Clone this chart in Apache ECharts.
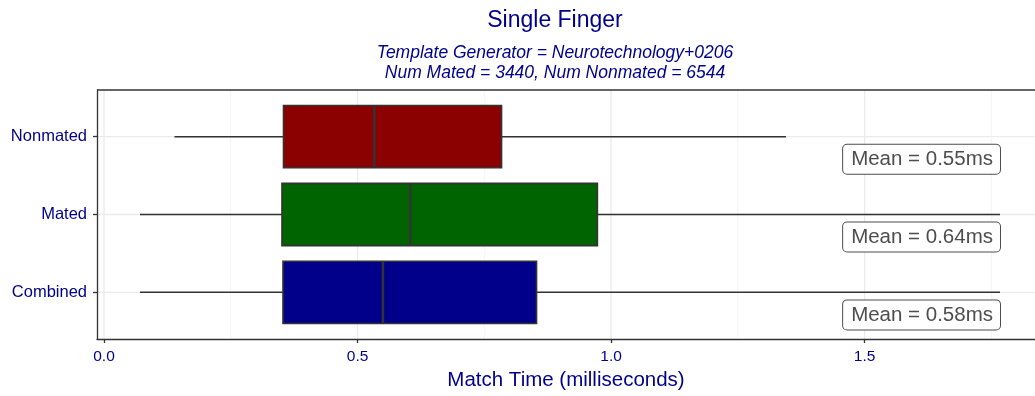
<!DOCTYPE html>
<html>
<head>
<meta charset="utf-8">
<script src="https://cdn.jsdelivr.net/npm/echarts@6/dist/echarts.min.js"></script>
<style>
  html, body { margin: 0; padding: 0; background: #fff; }
  #chart { width: 1035px; height: 396px; }
</style>
</head>
<body>
<div id="chart"></div>
<script>
// Match-time distribution per comparison group (milliseconds)
const categories = ['Combined', 'Mated', 'Nonmated'];
const whiskerLow = [0.071, 0.071, 0.139];
const q1 = [0.353, 0.351, 0.354];
const median = [0.550, 0.604, 0.533];
const q3 = [0.853, 0.973, 0.784];
const whiskerHigh = [1.767, 1.767, 1.345];
const means = [0.58, 0.64, 0.55];
const boxColors = ['#00008B', '#006400', '#8B0000'];

const xTicks = [0, 0.5, 1.0, 1.5];
const xTickLabels = ['0.0', '0.5', '1.0', '1.5'];
const xMinorTicks = [0.25, 0.75, 1.25, 1.75];

const titleText = 'Single Finger';
const subtitleLines = [
  'Template Generator = Neurotechnology+0206',
  'Num Mated = 3440, Num Nonmated = 6544'
];
const xAxisTitle = 'Match Time (milliseconds)';

const navy = '#00008B';
const ink = '#333333';
const font = '"Liberation Sans", Arial, Helvetica, sans-serif';

// x range padded by 5% of the data span on both sides; the panel runs
// past the right edge of the canvas, so only the visible part is mapped
const dataMin = Math.min(...whiskerLow);
const dataMax = Math.max(...whiskerHigh);
const pad = 0.05 * (dataMax - dataMin);
const panelLeft = 97, panelRight = 1043, canvasWidth = 1035;
const fullMin = dataMin - pad;
const fullMax = dataMax + pad;
const visibleMax = fullMin + (fullMax - fullMin) * (canvasWidth - panelLeft) / (panelRight - panelLeft);

const boxData = categories.map((c, i) =>
  [i + 1, whiskerLow[i], q1[i], median[i], q3[i], whiskerHigh[i]]);

const gridLines = []
  .concat(xMinorTicks.map(v => ['xminor', v]))
  .concat(xTicks.map(v => ['xmajor', v]))
  .concat(categories.map((c, i) => ['ymajor', i + 1]))
  .concat([['top', 0]]);

const labelData = categories.map((c, i) => [dataMax, i + 1 - 0.29, means[i]]);

const chart = echarts.init(document.getElementById('chart'), null, { renderer: 'canvas' });

chart.setOption({
  animation: false,
  backgroundColor: '#ffffff',
  graphic: [
    { type: 'text', x: 555, y: 21, style: { text: titleText, fill: navy, font: '23px ' + font, textAlign: 'center', textVerticalAlign: 'middle' } },
    { type: 'text', x: 555, y: 53, style: { text: subtitleLines[0], fill: navy, font: 'italic 17.5px ' + font, textAlign: 'center', textVerticalAlign: 'middle' } },
    { type: 'text', x: 555, y: 73, style: { text: subtitleLines[1], fill: navy, font: 'italic 17.5px ' + font, textAlign: 'center', textVerticalAlign: 'middle' } }
  ],
  grid: {
    left: panelLeft, top: 90, right: 0, bottom: 48,
    show: false
  },
  xAxis: {
    type: 'value',
    min: fullMin,
    max: visibleMax,
    splitLine: { show: false },
    axisLine: { show: true, onZero: false, lineStyle: { color: ink, width: 1.3 } },
    axisTick: { show: true, customValues: xTicks, length: 4, lineStyle: { color: ink, width: 1.3 } },
    axisLabel: {
      customValues: xTicks,
      formatter: v => xTickLabels[xTicks.findIndex(t => Math.abs(t - v) < 1e-9)],
      color: navy, fontSize: 15.5, fontFamily: font, margin: 10
    },
    name: xAxisTitle,
    nameLocation: 'middle',
    nameGap: 31,
    nameTextStyle: { color: navy, fontSize: 20.5, fontFamily: font }
  },
  yAxis: {
    type: 'value',
    min: 0.4,
    max: 3.6,
    splitLine: { show: false },
    axisLine: { show: true, onZero: false, lineStyle: { color: ink, width: 1.3 } },
    axisTick: { show: true, customValues: [1, 2, 3], length: 4, lineStyle: { color: ink, width: 1.3 } },
    axisLabel: {
      customValues: [1, 2, 3],
      formatter: v => categories[Math.round(v) - 1],
      color: navy, fontSize: 16.5, fontFamily: font, margin: 10
    }
  },
  series: [
    {
      // panel grid lines and the top edge of the panel
      type: 'custom',
      silent: true,
      z: 0,
      data: gridLines,
      encode: { x: 1 },
      renderItem: (params, api) => {
        const cs = params.coordSys;
        const kind = gridLines[params.dataIndex][0];
        const v = api.value(1);
        if (kind === 'top') {
          return { type: 'line', z2: 10, shape: { x1: cs.x, y1: cs.y, x2: cs.x + cs.width, y2: cs.y },
            style: { stroke: ink, lineWidth: 1.3 } };
        }
        if (kind === 'ymajor') {
          const y = api.coord([0, v])[1];
          return { type: 'line', shape: { x1: cs.x, y1: y, x2: cs.x + cs.width, y2: y },
            style: { stroke: '#EBEBEB', lineWidth: 1.3 } };
        }
        const x = api.coord([v, 1])[0];
        return { type: 'line', shape: { x1: x, y1: cs.y, x2: x, y2: cs.y + cs.height },
          style: { stroke: kind === 'xmajor' ? '#EBEBEB' : '#F3F3F3', lineWidth: kind === 'xmajor' ? 1.3 : 0.8 } };
      }
    },
    {
      // box plots
      type: 'custom',
      z: 2,
      data: boxData,
      encode: { y: 0, x: [1, 2, 3, 4, 5] },
      renderItem: (params, api) => {
        const cat = api.value(0);
        const lo = api.coord([api.value(1), cat]);
        const b1 = api.coord([api.value(2), cat]);
        const md = api.coord([api.value(3), cat]);
        const b3 = api.coord([api.value(4), cat]);
        const hi = api.coord([api.value(5), cat]);
        const h = api.size([0, 0.8])[1];
        const top = lo[1] - h / 2;
        const color = boxColors[params.dataIndex];
        const stroke = { stroke: ink, lineWidth: 1.6 };
        return {
          type: 'group',
          children: [
            { type: 'line', shape: { x1: lo[0], y1: lo[1], x2: b1[0], y2: lo[1] }, style: stroke },
            { type: 'line', shape: { x1: b3[0], y1: lo[1], x2: hi[0], y2: lo[1] }, style: stroke },
            { type: 'rect', shape: { x: b1[0], y: top, width: b3[0] - b1[0], height: h },
              style: { fill: color, stroke: ink, lineWidth: 1.6 } },
            { type: 'line', shape: { x1: md[0], y1: top, x2: md[0], y2: top + h },
              style: { stroke: ink, lineWidth: 2.6 } }
          ]
        };
      }
    },
    {
      // mean labels
      type: 'custom',
      z: 3,
      data: labelData,
      encode: { x: 0, y: 1 },
      renderItem: (params, api) => {
        const p = api.coord([api.value(0), api.value(1)]);
        return {
          type: 'text',
          x: p[0], y: p[1],
          style: {
            text: 'Mean = ' + api.value(2).toFixed(2) + 'ms',
            font: '20.5px ' + font,
            fill: '#4D4D4D',
            align: 'right',
            verticalAlign: 'middle',
            backgroundColor: '#ffffff',
            borderColor: '#4D4D4D',
            borderWidth: 1,
            borderRadius: 4,
            padding: [4, 7, 4, 8]
          }
        };
      }
    }
  ]
});
</script>
</body>
</html>
